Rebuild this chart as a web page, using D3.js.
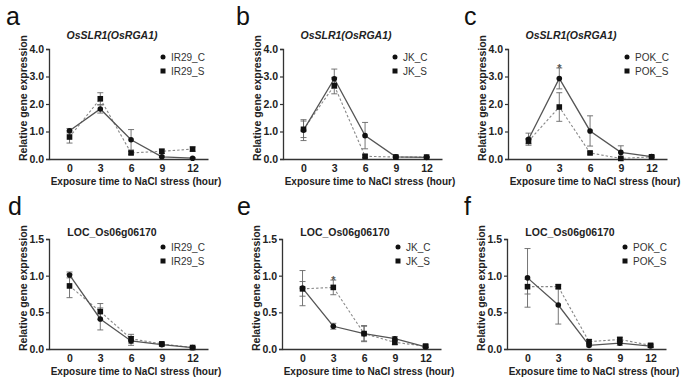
<!DOCTYPE html>
<html>
<head>
<meta charset="utf-8">
<script src="https://cdn.jsdelivr.net/npm/d3@7"></script>
<style>
  body { margin: 0; background: #fff; }
  svg text { font-family: "Liberation Sans", Arial, sans-serif; }
</style>
</head>
<body>
<svg id="fig" width="685" height="388"></svg>
<script>
// ---- data ----
const hours = [0, 3, 6, 9, 12];
const letters = ["a", "b", "c", "d", "e", "f"];
const lines = ["IR29", "JK", "POK", "IR29", "JK", "POK"];
const genes = ["OsSLR1(OsRGA1)", "OsSLR1(OsRGA1)", "OsSLR1(OsRGA1)",
               "LOC_Os06g06170", "LOC_Os06g06170", "LOC_Os06g06170"];
const yTicksTop = [0, 1, 2, 3, 4];
const yTicksBottom = [0, 0.5, 1, 1.5];

// control (C) and salt (S) means with SE
const aC = [1.03, 1.82, 0.70, 0.08, 0.03], aCErr = [0.08, 0.15, 0.37, 0.03, 0.02];
const aS = [0.80, 2.19, 0.22, 0.28, 0.36], aSErr = [0.22, 0.22, 0.05, 0.08, 0.08];
const bC = [1.05, 2.92, 0.85, 0.08, 0.06], bCErr = [0.38, 0.35, 0.48, 0.03, 0.02];
const bS = [1.08, 2.67, 0.10, 0.07, 0.07], bSErr = [0.30, 0.30, 0.05, 0.02, 0.02];
const cC = [0.72, 2.93, 1.02, 0.24, 0.09], cCErr = [0.22, 0.38, 0.55, 0.24, 0.05];
const cS = [0.65, 1.89, 0.22, 0.02, 0.08], cSErr = [0.10, 0.52, 0.04, 0.02, 0.03];
const dC = [1.01, 0.41, 0.11, 0.06, 0.02], dCErr = [0.04, 0.15, 0.06, 0.02, 0.01];
const dS = [0.86, 0.51, 0.14, 0.07, 0.02], dSErr = [0.16, 0.11, 0.06, 0.02, 0.01];
const eC = [0.83, 0.31, 0.21, 0.14, 0.03], eCErr = [0.24, 0.04, 0.11, 0.03, 0.01];
const eS = [0.82, 0.84, 0.21, 0.09, 0.04], eSErr = [0.10, 0.10, 0.10, 0.03, 0.02];
const fC = [0.97, 0.60, 0.05, 0.08, 0.04], fCErr = [0.40, 0.26, 0.02, 0.03, 0.02];
const fS = [0.85, 0.85, 0.10, 0.13, 0.05], fSErr = [0.10, 0.03, 0.03, 0.03, 0.02];

// significance stars: [panel index, series, hour index]
const stars = [[2, "C", 1], [4, "S", 1]];

const ctrl = [aC, bC, cC, dC, eC, fC], ctrlErr = [aCErr, bCErr, cCErr, dCErr, eCErr, fCErr];
const salt = [aS, bS, cS, dS, eS, fS], saltErr = [aSErr, bSErr, cSErr, dSErr, eSErr, fSErr];

// ---- layout (axis origin x, top y, bottom y, legend x, letter x) ----
const axisX = [49, 283, 508, 49, 282, 507];
const legendX = [163, 395, 627, 163, 398, 625];
const letterX = [6, 236, 464, 8, 237, 464];
const rowTop = [49, 239], rowBottom = [159, 349];
const titleY = [39, 236];
const plotW = 159;

const svg = d3.select("#fig");

letters.forEach((letter, i) => {
  const row = i < 3 ? 0 : 1;
  const x0 = axisX[i];
  const yMax = row === 0 ? 4 : 1.5;
  const ticks = row === 0 ? yTicksTop : yTicksBottom;

  const x = d3.scaleLinear().domain([-2, 13.5]).range([x0, x0 + plotW]);
  const y = d3.scaleLinear().domain([0, yMax]).range([rowBottom[row], rowTop[row]]);

  const g = svg.append("g");

  // panel letter
  g.append("text").attr("x", letterX[i]).attr("y", row === 0 ? 25 : 215)
    .attr("font-size", 25).attr("fill", "#111").text(letter);

  // axes
  const yAxis = d3.axisLeft(y).tickValues(ticks).tickSize(3).tickPadding(2)
    .tickFormat(d3.format(".1f"));
  g.append("g").attr("transform", `translate(${x0},0)`).call(yAxis)
    .call(s => s.select(".domain").attr("stroke", "#333").attr("stroke-width", 1.3))
    .call(s => s.selectAll(".tick line").attr("stroke", "#333").attr("stroke-width", 1.2))
    .call(s => s.selectAll(".tick text").attr("font-size", 10.5).attr("font-weight", "bold")
      .attr("fill", "#222").style("font-family", "Liberation Sans, Arial, sans-serif"));

  const xAxis = d3.axisBottom(x).tickValues(hours).tickSize(0).tickPadding(6);
  g.append("g").attr("transform", `translate(0,${rowBottom[row]})`).call(xAxis)
    .call(s => s.select(".domain").attr("stroke", "#333").attr("stroke-width", 1.3))
    .call(s => s.selectAll(".tick text").attr("font-size", 10.5).attr("font-weight", "bold")
      .attr("fill", "#222").style("font-family", "Liberation Sans, Arial, sans-serif"));

  // axis titles
  g.append("text")
    .attr("transform", `translate(${x0 - 22},${(rowTop[row] + rowBottom[row]) / 2 - 6}) rotate(-90)`)
    .attr("text-anchor", "middle").attr("font-size", 10.5).attr("font-weight", "bold")
    .attr("fill", "#222").text("Relative gene expression");
  g.append("text").attr("x", x0 + 87).attr("y", rowBottom[row] + 26)
    .attr("text-anchor", "middle").attr("font-size", 10).attr("font-weight", "bold")
    .attr("fill", "#222").text("Exposure time to NaCl stress (hour)");

  // gene title
  g.append("text").attr("x", x0 + 63).attr("y", titleY[row])
    .attr("text-anchor", "middle").attr("font-size", 10.5)
    .attr("font-weight", "bold").attr("font-style", row === 0 ? "italic" : "normal")
    .attr("fill", "#222").text(genes[i]);

  const series = [
    { key: "C", vals: ctrl[i], err: ctrlErr[i], color: "#555", dash: null, width: 1.3 },
    { key: "S", vals: salt[i], err: saltErr[i], color: "#888", dash: "2.5,2", width: 1.1 }
  ];

  const line = d3.line().x((d, k) => x(hours[k])).y(d => y(d));

  // lines
  series.slice().reverse().forEach(s => {
    g.append("path").datum(s.vals).attr("d", line).attr("fill", "none")
      .attr("stroke", s.color).attr("stroke-width", s.width)
      .attr("stroke-dasharray", s.dash);
  });

  // error bars
  series.forEach(s => {
    const eb = g.append("g").attr("stroke", "#666").attr("stroke-width", 0.9);
    s.vals.forEach((v, k) => {
      const cx = x(hours[k]);
      const lo = y(Math.max(0, v - s.err[k])), hi = y(v + s.err[k]);
      eb.append("line").attr("x1", cx).attr("x2", cx).attr("y1", lo).attr("y2", hi);
      eb.append("line").attr("x1", cx - 3).attr("x2", cx + 3).attr("y1", hi).attr("y2", hi);
      eb.append("line").attr("x1", cx - 3).attr("x2", cx + 3).attr("y1", lo).attr("y2", lo);
    });
  });

  // markers
  g.selectAll(".sq").data(salt[i]).join("rect")
    .attr("x", (d, k) => x(hours[k]) - 2.8).attr("y", d => y(d) - 2.8)
    .attr("width", 5.6).attr("height", 5.6).attr("fill", "#111");
  g.selectAll(".ci").data(ctrl[i]).join("circle")
    .attr("cx", (d, k) => x(hours[k])).attr("cy", d => y(d))
    .attr("r", 2.8).attr("fill", "#111");

  // stars
  stars.filter(st => st[0] === i).forEach(st => {
    const vals = st[1] === "C" ? ctrl[i] : salt[i];
    const errs = st[1] === "C" ? ctrlErr[i] : saltErr[i];
    const k = st[2];
    g.append("text").attr("x", x(hours[k])).attr("y", y(vals[k] + errs[k]) + 4)
      .attr("text-anchor", "middle").attr("font-size", 11).attr("font-weight", "bold")
      .attr("fill", "#555").text("*");
  });

  // legend
  const ly = rowTop[row] + 8;
  const lg = g.append("g").attr("transform", `translate(${legendX[i]},${ly})`);
  lg.append("circle").attr("cx", 0).attr("cy", 0).attr("r", 2.5).attr("fill", "#111");
  lg.append("rect").attr("x", -2.5).attr("y", 11.5).attr("width", 5).attr("height", 5).attr("fill", "#111");
  ["_C", "_S"].forEach((suffix, k) => {
    lg.append("text").attr("x", 8).attr("y", k * 14 + 3.5)
      .attr("font-size", 10).attr("fill", "#333").text(lines[i] + suffix);
  });
});
</script>
</body>
</html>
